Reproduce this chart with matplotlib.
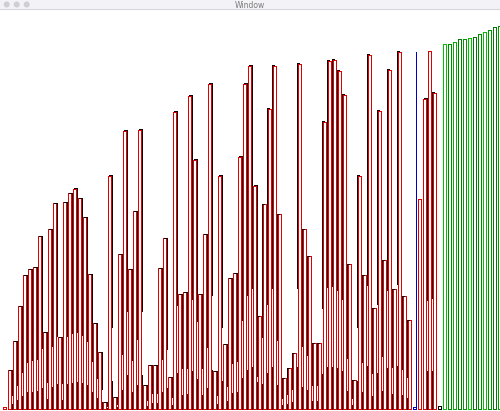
import matplotlib
matplotlib.use("Agg")
import matplotlib.pyplot as plt
from matplotlib.patches import Rectangle, Circle

# ---- data (bar heights in screen pixels above the baseline) ----
heights = [2, 39, 68, 103, 134, 140, 142, 173, 77, 180, 206, 72, 207, 216, 220, 211, 192,
           135, 86, 57, 7, 233, 12, 155, 278, 140, 198, 279, 24, 44, 44, 141, 171, 32,
           297, 115, 117, 313, 249, 115, 175, 325, 38, 233, 65, 131, 136, 252, 325, 343, 223,
           93, 205, 300, 343, 195, 31, 41, 56, 345, 180, 153, 66, 66, 287, 348, 349, 338,
           314, 145, 29, 233, 134, 354, 101, 298, 149, 339, 120, 357, 113, 89,
           2, 210, 310, 358, 316, 3,
           365, 365, 367, 370, 370, 371, 372, 375, 377, 379, 382, 383]

# state of each bar: 'active' (red), 'pointer' (blue), 'moved' (black), 'sorted' (green)
states = (['active'] * 82 + ['pointer'] + ['active'] * 4 + ['moved'] + ['sorted'] * 12)
# side of the ghost (previous frame) edge: +1 right, -1 left, 0 none
ghost_side = [1] * 51 + [-1] * 32 + [0, 1, 0, -1] + [0] * 13
sorted_shades = ['#00c000', '#008a00', '#00b000', '#007a00', '#009a00', '#00c000',
                 '#007a00', '#008a00', '#00c000', '#009000', '#007a00', '#009a00']
pointer_index = 82
pointer_height = 356

state_color = {'active': '#e00000', 'pointer': '#0000c0', 'moved': '#000000'}

W, H = 500, 411
BASE = 408.5      # baseline row (screen pixels from top)
PITCH = 5
GHOST_TOP = 0.65
GHOST_LOW = 0.12
fig = plt.figure(figsize=(W / 100, H / 100), dpi=100)
fig.patch.set_facecolor('white')

ax = fig.add_axes([0, 0, 1, 1])
ax.set_xlim(0, W)
ax.set_ylim(H, 0)
ax.axis('off')

lw = 0.72
ghost_col = '#1a0000'
for i, h in enumerate(heights):
    x0 = PITCH * i + 2.5
    st = states[i]
    col = sorted_shades[i - 88] if st == 'sorted' else state_color[st]
    ax.add_patch(Rectangle((x0, BASE), 3, -h, fill=False, edgecolor=col,
                           linewidth=lw, antialiased=False))
    g = ghost_side[i]
    if g != 0 and h > 4:
        top = BASE - h
        gx = x0 + 4 if g > 0 else x0 - 1
        tx = [x0 + 1.5, gx] if g > 0 else [gx, x0 + 1.5]
        ax.plot([gx, gx], [top, top + h * GHOST_TOP], color=ghost_col,
                linewidth=lw, antialiased=False, solid_capstyle='butt')
        ax.plot([gx, gx], [BASE - h * GHOST_LOW, BASE], color=ghost_col,
                linewidth=lw, antialiased=False, solid_capstyle='butt')
        ax.plot(tx, [top, top], color=ghost_col, linewidth=lw, antialiased=False,
                solid_capstyle='butt')

# blue pointer line
px = PITCH * pointer_index + 5.5
ax.plot([px, px], [BASE, BASE - pointer_height], color='#0000c0', linewidth=lw,
        antialiased=False)

# ---- window title bar ----
title_h = 10
ax.add_patch(Rectangle((0, 0), W, title_h - 0.5, facecolor='#f3f2f7', edgecolor='none'))
ax.plot([0, W], [title_h - 0.5, title_h - 0.5], color='#d8d8dc', linewidth=0.8)
for cx in (6.7, 16.7, 26.7):
    ax.add_patch(Circle((cx, 4.5), radius=3.0, facecolor='#cfcfd2', edgecolor='none'))
ax.text(W / 2, 5, 'Window', ha='center', va='center', fontsize=5.5,
        color='#7a7a7a', family='DejaVu Sans')

fig.savefig('out.png', dpi=100)
